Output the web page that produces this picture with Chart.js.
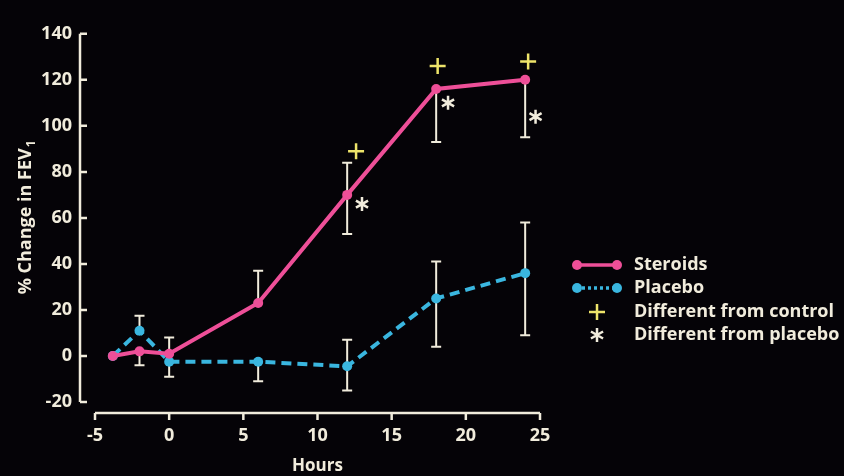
<!DOCTYPE html>
<html>
<head>
<meta charset="utf-8">
<script src="https://cdn.jsdelivr.net/npm/chart.js@4"></script>
<style>
  body { margin: 0; background: #050307; }
  #wrap { width: 844px; height: 476px; }
</style>
</head>
<body>
<div id="wrap"><canvas id="fev" width="844" height="476"></canvas></div>
<script>
// dati
const hours = [-3.8, -2, 0, 6, 12, 18, 24];
const steroids = [0, 2, 1, 23, 70, 116, 120];
const placebo = [0, 11, -2.5, -2.5, -4.5, 25, 36];

// barre di errore (null = non visibile)
const steroidsHi = [null, null, 8, 37, 84, null, null];
const steroidsLo = [null, -4, null, null, 53, 93, 95];
const placeboHi = [null, 17.5, null, null, 7, 41, 58];
const placeboLo = [null, null, -9, -11, -15, 4, 9];

// segni di significatività (posizione in unità del grafico)
const controlX = [12.6, 18.1, 24.2];
const controlY = [89, 126, 128];
const placeboSigX = [13, 18.8, 24.7];
const placeboSigY = [66, 110, 104];

const xTicks = [-5, 0, 5, 10, 15, 20, 25];
const yTicks = [-20, 0, 20, 40, 60, 80, 100, 120, 140];

const legendLabels = ["Steroids", "Placebo", "Different from control", "Different from placebo"];

const pink = "#ee4f98";
const blue = "#3ab6df";
const cream = "#f1ecdc";
const yellow = "#eee46a";
const font = "'Open Sans', sans-serif";

function plus(ctx, x, y, r) {
  ctx.beginPath();
  ctx.moveTo(x - r, y); ctx.lineTo(x + r, y);
  ctx.moveTo(x, y - r); ctx.lineTo(x, y + r);
  ctx.stroke();
}

function star(ctx, x, y, r) {
  ctx.beginPath();
  for (let a = 0; a < 3; a++) {
    const t = Math.PI / 2 + a * Math.PI / 3;
    ctx.moveTo(x - r * Math.cos(t), y - r * Math.sin(t));
    ctx.lineTo(x + r * Math.cos(t), y + r * Math.sin(t));
  }
  ctx.stroke();
}

const deco = {
  id: "deco",
  beforeDatasetsDraw(chart) {
    const ctx = chart.ctx;
    const xs = chart.scales.x, ys = chart.scales.y;
    ctx.save();
    ctx.strokeStyle = cream;
    ctx.lineWidth = 2;
    const series = [[steroids, steroidsHi, steroidsLo], [placebo, placeboHi, placeboLo]];
    series.forEach(([vals, hi, lo]) => {
      hours.forEach((h, i) => {
        if (hi[i] == null && lo[i] == null) return;
        const px = xs.getPixelForValue(h);
        const top = ys.getPixelForValue(hi[i] != null ? hi[i] : vals[i]);
        const bot = ys.getPixelForValue(lo[i] != null ? lo[i] : vals[i]);
        ctx.beginPath();
        ctx.moveTo(px, top); ctx.lineTo(px, bot);
        if (hi[i] != null) { ctx.moveTo(px - 5, top); ctx.lineTo(px + 5, top); }
        if (lo[i] != null) { ctx.moveTo(px - 5, bot); ctx.lineTo(px + 5, bot); }
        ctx.stroke();
      });
    });
    ctx.restore();
  },
  afterDatasetsDraw(chart) {
    const ctx = chart.ctx;
    const xs = chart.scales.x, ys = chart.scales.y;
    const area = chart.chartArea;
    ctx.save();

    // assi staccati
    ctx.strokeStyle = cream;
    ctx.lineWidth = 2.5;
    const ax = area.left - 15;
    ctx.beginPath();
    ctx.moveTo(ax, ys.getPixelForValue(yTicks[yTicks.length - 1]));
    ctx.lineTo(ax, ys.getPixelForValue(yTicks[0]));
    yTicks.forEach(t => {
      const py = ys.getPixelForValue(t);
      ctx.moveTo(ax, py); ctx.lineTo(ax + 7, py);
    });
    const ay = area.bottom + 11;
    ctx.moveTo(xs.getPixelForValue(xTicks[0]), ay);
    ctx.lineTo(xs.getPixelForValue(xTicks[xTicks.length - 1]), ay);
    xTicks.forEach(t => {
      const px = xs.getPixelForValue(t);
      ctx.moveTo(px, ay); ctx.lineTo(px, ay + 7);
    });
    ctx.stroke();

    // segni
    ctx.strokeStyle = yellow;
    ctx.lineWidth = 2.5;
    controlX.forEach((x, i) => plus(ctx, xs.getPixelForValue(x), ys.getPixelForValue(controlY[i]), 8));
    ctx.strokeStyle = cream;
    ctx.lineWidth = 2.5;
    placeboSigX.forEach((x, i) => star(ctx, xs.getPixelForValue(x), ys.getPixelForValue(placeboSigY[i]), 7));

    // titolo asse y con pedice
    ctx.fillStyle = cream;
    ctx.translate(31, (area.top + area.bottom) / 2);
    ctx.rotate(-Math.PI / 2);
    const main = "% Change in FEV";
    ctx.font = "bold 18px " + font;
    const w1 = ctx.measureText(main).width;
    ctx.font = "bold 12px " + font;
    const w2 = ctx.measureText("1").width;
    const start = -(w1 + w2) / 2;
    ctx.textBaseline = "alphabetic";
    ctx.textAlign = "left";
    ctx.font = "bold 18px " + font;
    ctx.fillText(main, start, 0);
    ctx.font = "bold 12px " + font;
    ctx.fillText("1", start + w1 + 1, 4);
    ctx.setTransform(1, 0, 0, 1, 0, 0);

    // legenda
    const lx = 577, tx = 634, rows = [265, 288, 312, 335];
    ctx.lineWidth = 3.5;
    ctx.strokeStyle = pink; ctx.fillStyle = pink;
    ctx.beginPath(); ctx.moveTo(lx, rows[0]); ctx.lineTo(lx + 40, rows[0]); ctx.stroke();
    [lx, lx + 40].forEach(x => { ctx.beginPath(); ctx.arc(x, rows[0], 5, 0, Math.PI * 2); ctx.fill(); });
    ctx.strokeStyle = blue; ctx.fillStyle = blue;
    ctx.setLineDash([3, 3]);
    ctx.beginPath(); ctx.moveTo(lx + 5, rows[1]); ctx.lineTo(lx + 36, rows[1]); ctx.stroke();
    ctx.setLineDash([]);
    [lx, lx + 40].forEach(x => { ctx.beginPath(); ctx.arc(x, rows[1], 5, 0, Math.PI * 2); ctx.fill(); });
    ctx.strokeStyle = yellow; ctx.lineWidth = 2.5;
    plus(ctx, lx + 20, rows[2], 8);
    ctx.strokeStyle = cream; ctx.lineWidth = 2.5;
    star(ctx, lx + 20, rows[3], 7);
    ctx.fillStyle = cream;
    ctx.font = "bold 18px " + font;
    ctx.textBaseline = "middle";
    legendLabels.forEach((t, i) => ctx.fillText(t, tx, rows[i]));

    ctx.restore();
  }
};

new Chart(document.getElementById("fev"), {
  type: "line",
  data: {
    datasets: [
      {
        label: "Steroids",
        data: hours.map((h, i) => ({ x: h, y: steroids[i] })),
        borderColor: pink,
        backgroundColor: pink,
        borderWidth: 4,
        pointRadius: 5,
        pointBorderWidth: 0,
        tension: 0
      },
      {
        label: "Placebo",
        data: hours.map((h, i) => ({ x: h, y: placebo[i] })),
        borderColor: blue,
        backgroundColor: blue,
        borderWidth: 4,
        borderDash: [10, 6],
        pointRadius: 5,
        pointBorderWidth: 0,
        tension: 0
      }
    ]
  },
  options: {
    responsive: false,
    animation: false,
    layout: { padding: { top: 18, right: 304, left: 0, bottom: 0 } },
    plugins: { legend: { display: false }, tooltip: { enabled: false } },
    scales: {
      x: {
        type: "linear",
        min: -5, max: 25,
        afterFit: s => { s.height = 74; },
        afterBuildTicks: s => { s.ticks = xTicks.map(v => ({ value: v })); },
        grid: { display: false, drawTicks: false },
        border: { display: false },
        ticks: { color: cream, padding: 23, font: { family: font, size: 18, weight: "bold" } },
        title: { display: true, text: "Hours", color: cream, padding: { top: 4, bottom: 0 }, font: { family: font, size: 17, weight: "bold" } }
      },
      y: {
        min: -20, max: 140,
        afterFit: s => { s.width = 95; },
        afterBuildTicks: s => { s.ticks = yTicks.map(v => ({ value: v })); },
        grid: { display: false, drawTicks: false },
        border: { display: false },
        ticks: { color: cream, padding: 23, font: { family: font, size: 18, weight: "bold" } }
      }
    }
  },
  plugins: [deco]
});
</script>
</body>
</html>
